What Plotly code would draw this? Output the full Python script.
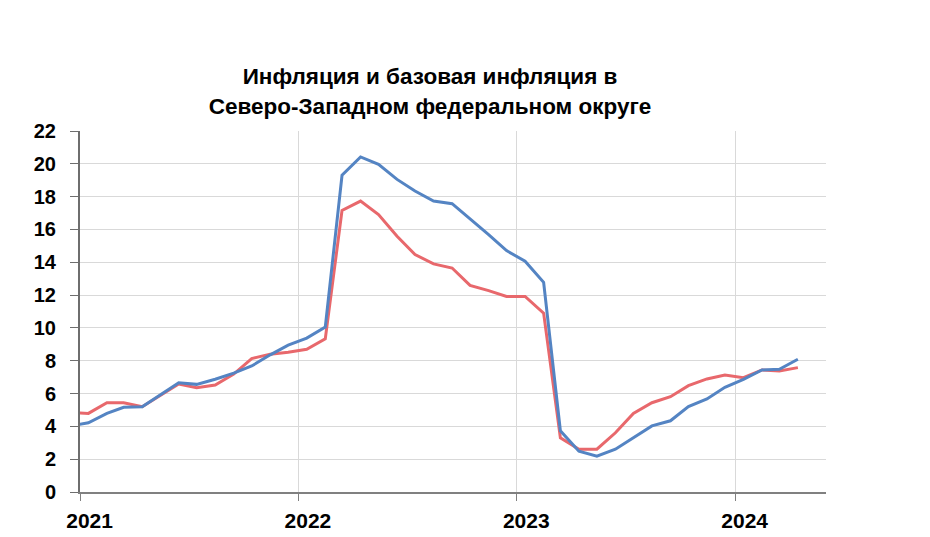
import plotly.graph_objects as go

months = ["2020-12-15"] + [f"{y}-{m:02d}-15" for y in (2021, 2022, 2023) for m in range(1, 13)] + [f"2024-{m:02d}-15" for m in range(1, 5)]

inflation = [4.03, 4.22, 4.79, 5.16, 5.20, 5.90, 6.66, 6.56, 6.87, 7.24, 7.68, 8.36, 8.95,
             9.38, 10.05, 19.30, 20.42, 19.97, 19.05, 18.34, 17.73, 17.57, 16.65, 15.69, 14.71,
             14.06, 12.78, 3.73, 2.49, 2.18, 2.61, 3.30, 4.03, 4.34, 5.20, 5.67, 6.38,
             6.87, 7.44, 7.48, 8.09]

core_inflation = [4.83, 4.79, 5.44, 5.44, 5.20, 5.90, 6.58, 6.36, 6.52, 7.19, 8.13, 8.40, 8.52,
                  8.70, 9.33, 17.16, 17.73, 16.91, 15.59, 14.47, 13.90, 13.65, 12.59, 12.27, 11.92,
                  11.92, 10.90, 3.30, 2.61, 2.61, 3.61, 4.79, 5.44, 5.81, 6.48, 6.89, 7.13,
                  6.97, 7.44, 7.38, 7.58]

y_ticks = list(range(0, 23, 2))
year_labels = ["2021", "2022", "2023", "2024"]
year_label_pos = ["2021-01-17", "2022-01-17", "2023-01-17", "2024-01-17"]
title_text = "<b>Инфляция и базовая инфляция в<br>Северо-Западном федеральном округе</b>"
x_range = ["2021-01-01", "2024-06-01"]

fig = go.Figure()
fig.add_trace(go.Scatter(x=months, y=core_inflation, mode="lines",
                         line=dict(color="#E8686C", width=3), name="Базовая инфляция"))
fig.add_trace(go.Scatter(x=months, y=inflation, mode="lines",
                         line=dict(color="#5484C3", width=3), name="Инфляция"))

fig.update_layout(
    width=930, height=537,
    margin=dict(l=72, r=112, t=123, b=53),
    paper_bgcolor="white", plot_bgcolor="white",
    showlegend=False,
    font=dict(family="Liberation Sans, Arial, sans-serif", color="black"),
    title=dict(text=title_text, x=0.4538, xanchor="center", y=0.858, yanchor="middle",
               font=dict(size=22.5, color="black")),
)
fig.update_xaxes(
    type="date", range=x_range,
    tickvals=year_label_pos, ticktext=year_labels,
    ticks="", showgrid=False,
    minor=dict(tick0="2021-01-01", dtick="M12", showgrid=True, gridcolor="#D9D9D9",
               gridwidth=1, ticks="outside", ticklen=7, tickcolor="#808080", tickwidth=1),
    showline=True, linecolor="#808080", linewidth=2,
    tickfont=dict(size=21, color="black", weight="bold"),
    ticklabelstandoff=9,
    zeroline=False,
)
fig.update_yaxes(
    range=[0, 22], tickvals=y_ticks,
    showgrid=True, gridcolor="#D9D9D9", gridwidth=1,
    showline=True, linecolor="#6E6E6E", linewidth=2,
    ticks="outside", ticklen=8, tickcolor="#6E6E6E",
    tickfont=dict(size=20, color="black", weight="bold"),
    ticklabelstandoff=10,
    zeroline=False,
)

fig.write_html("out.html")
